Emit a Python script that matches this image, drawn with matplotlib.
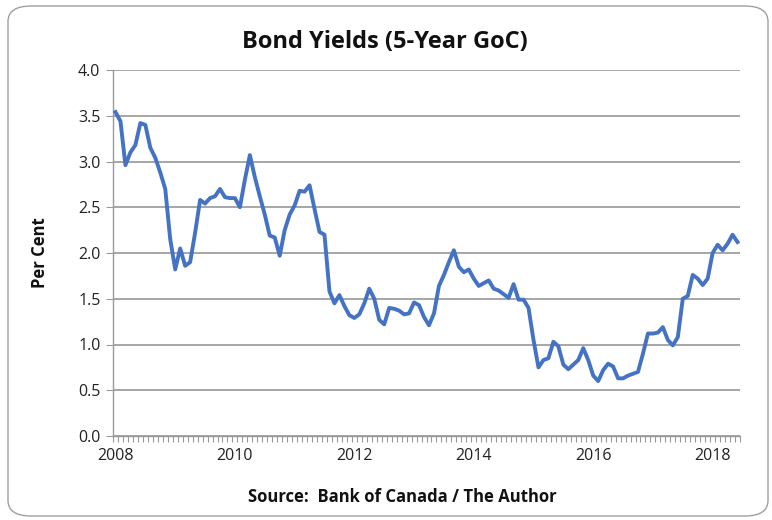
import matplotlib
matplotlib.use("Agg")
import matplotlib.pyplot as plt
from matplotlib.patches import FancyBboxPatch
from matplotlib.ticker import FixedLocator, NullFormatter

plt.rcParams['font.family'] = ['Open Sans', 'DejaVu Sans']

# Monthly 5-year GoC bond yields, Jan 2008 - Jun 2018
yields = [
    3.54, 3.44, 2.96, 3.10, 3.18, 3.42, 3.40, 3.15, 3.04, 2.88, 2.70, 2.15,
    1.82, 2.05, 1.86, 1.90, 2.22, 2.58, 2.54, 2.60, 2.62, 2.70, 2.61, 2.60,
    2.60, 2.50, 2.80, 3.07, 2.83, 2.62, 2.42, 2.19, 2.17, 1.97, 2.25, 2.42,
    2.52, 2.68, 2.67, 2.74, 2.48, 2.23, 2.20, 1.58, 1.45, 1.54, 1.42, 1.32,
    1.29, 1.33, 1.45, 1.61, 1.50, 1.27, 1.22, 1.40, 1.39, 1.37, 1.33, 1.34,
    1.46, 1.43, 1.30, 1.21, 1.34, 1.64, 1.76, 1.90, 2.03, 1.85, 1.79, 1.82,
    1.72, 1.64, 1.67, 1.70, 1.61, 1.59, 1.55, 1.51, 1.66, 1.49, 1.49, 1.40,
    1.05, 0.75, 0.83, 0.85, 1.03, 0.98, 0.78, 0.73, 0.78, 0.83, 0.96, 0.83,
    0.66, 0.60, 0.72, 0.79, 0.76, 0.63, 0.63, 0.66, 0.68, 0.70, 0.90, 1.12,
    1.12, 1.13, 1.19, 1.05, 0.99, 1.08, 1.50, 1.53, 1.76, 1.72, 1.65, 1.72,
    2.00, 2.09, 2.03, 2.10, 2.20, 2.12,
]
year_labels = ["2008", "2010", "2012", "2014", "2016", "2018"]
y_ticks = [0.0, 0.5, 1.0, 1.5, 2.0, 2.5, 3.0, 3.5, 4.0]

title = "Bond Yields (5-Year GoC)"
ylabel = "Per Cent"
source = "Source:  Bank of Canada / The Author"

W, H = 772, 520
fig = plt.figure(figsize=(W / 100, H / 100), dpi=100)

# rounded outer frame
frame = FancyBboxPatch((8 / W, 4 / H), (760 / W), (510 / H),
                       boxstyle="round,pad=0,rounding_size=0.03",
                       transform=fig.transFigure, facecolor="white",
                       edgecolor="#a0a0a0", linewidth=1.0, zorder=-5)
fig.patches.append(frame)

left, right, top, bottom = 113, 740, 70, 436
ax = fig.add_axes([left / W, 1 - bottom / H, (right - left) / W, (bottom - top) / H])
ax.set_zorder(2)
ax.set_facecolor("none")

x = list(range(len(yields)))
ax.plot(x, yields, color="#4472C4", linewidth=2.8, solid_joinstyle="round", zorder=3)

ax.set_xlim(-0.5, len(yields) - 0.5)
ax.set_ylim(0, 4.0)

ax.set_yticks(y_ticks)
ax.set_yticklabels([f"{v:.1f}" for v in y_ticks], fontsize=11.5, color="#222222")
ax.yaxis.grid(True, color="#a6a6a6", linewidth=1.4)
ax.set_axisbelow(True)

label_pos = [i * 24 for i in range(len(year_labels))]
ax.set_xticks(label_pos)
ax.set_xticklabels(year_labels, fontsize=11.5, color="#222222")
ax.tick_params(axis="x", which="major", length=0, pad=9)
ax.xaxis.set_minor_locator(FixedLocator([k - 0.5 for k in range(len(yields) + 1)]))
ax.xaxis.set_minor_formatter(NullFormatter())
ax.tick_params(axis="x", which="minor", length=4, width=0.8, color="#9a9a9a", direction="out")
ax.tick_params(axis="y", which="major", length=5, width=0.8, color="#9a9a9a", pad=4)

for s in ("top", "right"):
    ax.spines[s].set_visible(False)
for s in ("left", "bottom"):
    ax.spines[s].set_color("#9a9a9a")
    ax.spines[s].set_linewidth(1.0)

fig.text(385 / W, 1 - 42 / H, title, ha="center", va="center",
         fontsize=17, fontweight="bold", color="#111111")
fig.text(40 / W, 1 - 253 / H, ylabel, ha="center", va="center", rotation=90,
         fontsize=12, fontweight="bold", color="#111111")
fig.text(402 / W, 1 - 497 / H, source, ha="center", va="center",
         fontsize=12, fontweight="bold", color="#111111")

fig.savefig("out.png", dpi=100)
